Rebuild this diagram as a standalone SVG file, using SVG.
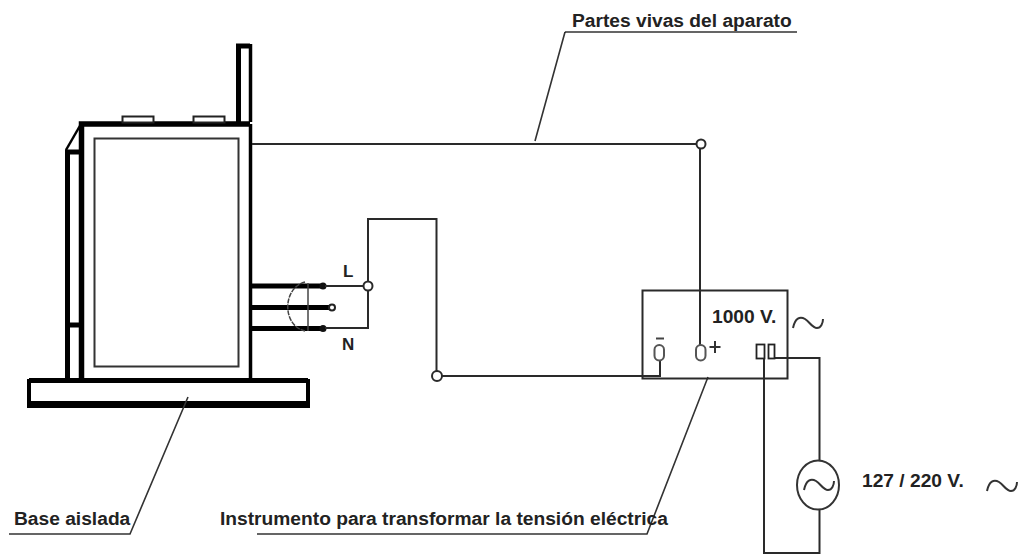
<svg xmlns="http://www.w3.org/2000/svg" width="1021" height="554" viewBox="0 0 1021 554">
<style>
.t{font-family:"Liberation Sans",Arial,sans-serif;font-weight:bold;font-size:19.2px;fill:#222}
.s{font-size:17px}
.w{fill:none;stroke:#2a2a2a;stroke-width:2}
.l{fill:none;stroke:#333;stroke-width:1.6}
.k{fill:none;stroke:#000}
.c{fill:#fff;stroke:#2a2a2a;stroke-width:2}
.thin{fill:none;stroke:#444;stroke-width:1.5}
.wave{fill:none;stroke:#333;stroke-width:2}
</style>
<rect width="1021" height="554" fill="#fff"/>
<g id="apparatus">
<path class="k" stroke-width="5.5" d="M81.500 378V124H250"/>
<path class="k" stroke-width="3.500" d="M250.500 124V378"/>
<path class="k" stroke-width="5" d="M67.500 378V152H80M68 325H80"/>
<path class="k" stroke-width="2.500" d="M66 150L81 124"/>
<path class="k" stroke-width="5" d="M238.500 122V46H250"/>
<path class="k" stroke-width="3.500" d="M250.500 122V44"/>
<rect x="94.500" y="138.500" width="144" height="228" fill="none" stroke="#333" stroke-width="2"/>
<rect x="122.500" y="116.500" width="31" height="6" fill="#fff" stroke="#222" stroke-width="2"/>
<rect x="193.500" y="116.500" width="31" height="6" fill="#fff" stroke="#222" stroke-width="2"/>
</g>
<g id="base">
<path class="k" stroke-width="5" d="M29 380.500H308"/>
<path class="k" stroke-width="7" d="M29 404.500H308"/>
<path class="k" stroke-width="4" d="M29 379V408M308 379V408"/>
</g>
<g id="cable">
<path d="M252 286H322M252 307.500H330M252 328.500H322" stroke="#000" stroke-width="5" fill="none"/>
<circle cx="323" cy="286" r="3.500" fill="#111"/>
<circle cx="323" cy="328.500" r="3.500" fill="#111"/>
<circle cx="332" cy="307.500" r="3" fill="#fff" stroke="#222" stroke-width="2"/>
<path class="thin" d="M308 283V331"/>
<path class="thin" d="M305 282C282 288 282 326 305 331" stroke-dasharray="5 1"/>
</g>
<g id="connectors">
<path class="w" d="M252 144H696M700 148V345"/>
<path class="w" d="M325 286H364M368 282V219H436.500V371M368 290V328H325"/>
<path class="w" d="M442 376H660V360"/>
<path class="w" d="M774 358H819.500V460M819.500 510V553H764V358"/>
<path class="l" d="M565 32H797M565 32L535 141"/>
<path class="l" d="M9 534H130L188 397"/>
<path class="l" d="M257 534H647L708 377"/>
</g>
<g id="instrument">
<rect x="642.500" y="290.500" width="145" height="88" fill="none" stroke="#2a2a2a" stroke-width="2"/>
<path d="M656 338.500H664" stroke="#444" stroke-width="2"/>
<rect x="654.500" y="345" width="9.500" height="15.500" rx="4.700" fill="#fff" stroke="#555" stroke-width="2"/>
<rect x="696" y="345" width="9.500" height="15.500" rx="4.700" fill="#fff" stroke="#555" stroke-width="2"/>
<rect x="756.500" y="344.500" width="8" height="14" fill="#fff" stroke="#222" stroke-width="1.800"/>
<rect x="768.500" y="344.500" width="6" height="14" fill="#fff" stroke="#222" stroke-width="1.800"/>
<path d="M709.500 347H720.500M715 341V353" stroke="#333" stroke-width="2"/>
<text class="t" x="712" y="323">1000 V.</text>
<path class="wave" d="M793 328C795 318 800 316 805 319C810 322 812 328 817 328C821 328 823 323 823 319"/>
</g>
<g id="nodes">
<circle class="c" cx="701" cy="144" r="4.500"/>
<circle class="c" cx="368" cy="286" r="4.500"/>
<circle class="c" cx="437" cy="376" r="5"/>
</g>
<g id="source">
<ellipse cx="818" cy="485" rx="21" ry="24.500" fill="#fff" stroke="#333" stroke-width="2"/>
<path class="wave" d="M804 490C806 480 811 478 816 481C821 484 823 490 828 490C832 490 834 485 834 481"/>
<text class="t" x="862" y="487">127 / 220 V.</text>
<path class="wave" d="M987 491C989 481 994 479 999 482C1004 485 1006 491 1011 491C1015 491 1017 486 1017 482"/>
</g>
<g id="labels">
<text class="t" x="572" y="27">Partes vivas del aparato</text>
<text class="t" x="14" y="525">Base aislada</text>
<text class="t" x="220" y="525">Instrumento para transformar la tensión eléctrica</text>
<text class="t s" x="343" y="277">L</text>
<text class="t s" x="342" y="350">N</text>
</g>
</svg>
